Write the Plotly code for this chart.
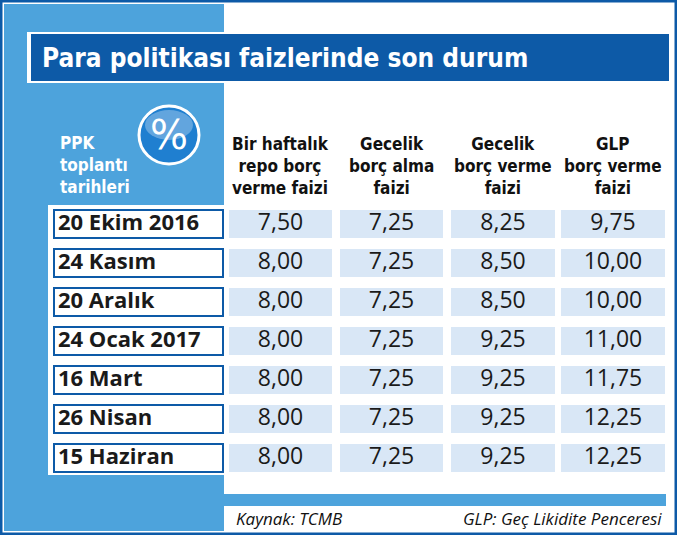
import plotly.graph_objects as go

# Veriler
tarihler = ["20 Ekim 2016", "24 Kasım", "20 Aralık", "24 Ocak 2017", "16 Mart", "26 Nisan", "15 Haziran"]
basliklar = ["Bir haftalık<br>repo borç<br>verme faizi", "Gecelik<br>borç alma<br>faizi",
             "Gecelik<br>borç verme<br>faizi", "GLP<br>borç verme<br>faizi"]
repo = [7.50, 8.00, 8.00, 8.00, 8.00, 8.00, 8.00]
borc_alma = [7.25, 7.25, 7.25, 7.25, 7.25, 7.25, 7.25]
borc_verme = [8.25, 8.50, 8.50, 9.25, 9.25, 9.25, 9.25]
glp = [9.75, 10.00, 10.00, 11.00, 11.75, 12.25, 12.25]

W, H = 677, 535
KOYU = "#0d5aa7"
ACIK = "#4da3dc"
HUCRE = "#d9e7f6"
NAR = "DejaVu Sans Condensed, Liberation Sans Narrow, sans-serif"

fig = go.Figure()
shapes = []

def kutu(x0, y0, x1, y1, fill, line=None, lw=0):
    shapes.append(dict(type="rect", x0=x0, y0=y0, x1=x1, y1=y1, fillcolor=fill,
                       line=dict(color=line or fill, width=lw), layer="below"))

# dis cerceve ve sol panel
kutu(1, 1, W - 1, H - 1, "white", KOYU, 3)
kutu(4, 4, 224, H - 4, ACIK)
kutu(224, 494, 666, 506, ACIK)
# baslik bandi
kutu(27, 32, 669, 83, "white")
kutu(31, 34, 669, 81, KOYU)
# tarih sutunu beyaz zemin
kutu(48, 205, 224, 475, "white")

sutunlar = [(229, 332), (340, 443), (451, 555), (561, 665)]
seriler = [repo, borc_alma, borc_verme, glp]
y0 = 210
adim = 39

for i, t in enumerate(tarihler):
    ya = y0 + i * adim
    kutu(54, ya, 223, ya + 28, "white", KOYU, 2)
    for (xa, xb) in sutunlar:
        kutu(xa, ya, xb, ya + 28, HUCRE)

# yuzde dairesi
shapes.append(dict(type="circle", x0=139, y0=106, x1=199, y1=164,
                   fillcolor="#1f7fd0", line=dict(color="white", width=3)))
shapes.append(dict(type="circle", x0=145, y0=110, x1=193, y1=140,
                   fillcolor="rgba(255,255,255,0.3)", line=dict(width=0)))

# degerler
for j, seri in enumerate(seriler):
    xm = (sutunlar[j][0] + sutunlar[j][1]) / 2
    fig.add_trace(go.Scatter(
        x=[xm] * len(seri), y=[y0 + i * adim + 14 for i in range(len(seri))],
        mode="text", text=[f"{v:.2f}".replace(".", ",") for v in seri],
        textfont=dict(size=23, color="#1a1a1a", family="Open Sans, sans-serif"),
        hoverinfo="skip", showlegend=False))

fig.add_trace(go.Scatter(
    x=[58] * len(tarihler), y=[y0 + i * adim + 14 for i in range(len(tarihler))],
    mode="text", text=["<b>" + t + "</b>" for t in tarihler], textposition="middle right",
    textfont=dict(size=22, color="#1a1a1a", family="Open Sans, sans-serif"),
    hoverinfo="skip", showlegend=False))

ann = []
ann.append(dict(x=40, y=58, text="<b>Para politikası faizlerinde son durum</b>", xanchor="left",
                showarrow=False, font=dict(size=26, color="white", family=NAR)))
for j, b in enumerate(basliklar):
    xm = (sutunlar[j][0] + sutunlar[j][1]) / 2
    ann.append(dict(x=xm, y=166, text="<b>" + b + "</b>", showarrow=False,
                    font=dict(size=17, color="#111", family=NAR), align="center"))
ann.append(dict(x=58, y=165, text="<b>PPK<br>toplantı<br>tarihleri</b>", xanchor="left",
                showarrow=False, align="left", font=dict(size=17, color="white", family=NAR)))
ann.append(dict(x=169, y=135, text="%", showarrow=False,
                font=dict(size=40, color="white", family="DejaVu Sans")))
ann.append(dict(x=234, y=518, text="<i>Kaynak: TCMB</i>", xanchor="left", showarrow=False,
                font=dict(size=17, color="#111", family="Open Sans, sans-serif")))
ann.append(dict(x=664, y=518, text="<i>GLP: Geç Likidite Penceresi</i>", xanchor="right", showarrow=False,
                font=dict(size=17, color="#111", family="Open Sans, sans-serif")))

fig.update_layout(
    width=W, height=H, margin=dict(l=0, r=0, t=0, b=0),
    paper_bgcolor="white", plot_bgcolor="white",
    xaxis=dict(range=[0, W], visible=False, fixedrange=True),
    yaxis=dict(range=[H, 0], visible=False, fixedrange=True),
    shapes=shapes, annotations=ann)

fig.write_html("out.html", config={"displayModeBar": False},
               post_script="document.body.style.margin='0';")
